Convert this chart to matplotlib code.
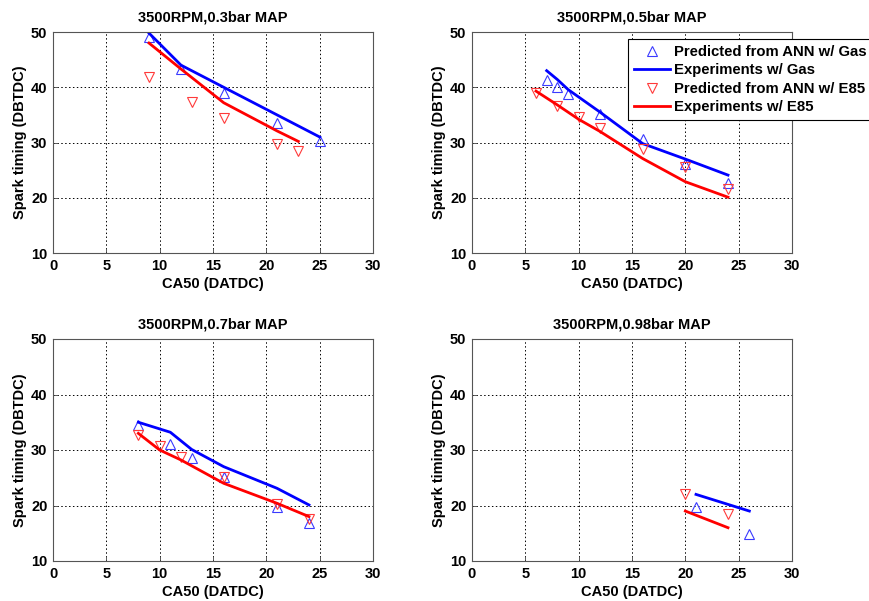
import matplotlib
matplotlib.use("Agg")
import matplotlib.pyplot as plt

plt.rcParams['font.family'] = ['Liberation Sans', 'DejaVu Sans']
plt.rcParams['font.weight'] = 'bold'

titles = ["3500RPM,0.3bar MAP", "3500RPM,0.5bar MAP",
          "3500RPM,0.7bar MAP", "3500RPM,0.98bar MAP"]

# 0.3 bar MAP
gas_exp_x_03 = [9, 12, 16, 21, 25]
gas_exp_y_03 = [49.8, 44.0, 40.0, 35.0, 31.0]
gas_ann_x_03 = [9, 12, 16, 21, 25]
gas_ann_y_03 = [49.1, 43.3, 38.9, 33.6, 30.2]
e85_exp_x_03 = [9, 12, 16, 21, 23]
e85_exp_y_03 = [48.0, 43.3, 37.2, 32.1, 30.2]
e85_ann_x_03 = [9, 13, 16, 21, 23]
e85_ann_y_03 = [41.9, 37.4, 34.5, 29.8, 28.5]

# 0.5 bar MAP
gas_exp_x_05 = [7, 8, 9, 12, 16, 20, 24]
gas_exp_y_05 = [43.0, 41.4, 39.6, 35.5, 29.8, 27.0, 24.1]
gas_ann_x_05 = [7, 8, 9, 12, 16, 20, 24]
gas_ann_y_05 = [41.4, 40.1, 38.8, 35.1, 30.7, 26.1, 22.6]
e85_exp_x_05 = [6, 8, 10, 12, 16, 20, 24]
e85_exp_y_05 = [39.3, 36.8, 34.2, 32.0, 27.1, 22.9, 20.1]
e85_ann_x_05 = [6, 8, 10, 12, 16, 20, 24]
e85_ann_y_05 = [38.9, 36.6, 34.7, 32.7, 28.9, 25.5, 21.6]

# 0.7 bar MAP
gas_exp_x_07 = [8, 11, 13, 16, 21, 24]
gas_exp_y_07 = [35.0, 33.2, 30.1, 27.0, 23.1, 20.1]
gas_ann_x_07 = [8, 11, 13, 16, 21, 24]
gas_ann_y_07 = [34.5, 31.1, 28.6, 25.1, 19.8, 16.9]
e85_exp_x_07 = [8, 10, 12, 16, 21, 24]
e85_exp_y_07 = [33.0, 30.0, 28.2, 24.0, 20.4, 18.0]
e85_ann_x_07 = [8, 10, 12, 16, 21, 24]
e85_ann_y_07 = [32.7, 30.7, 28.7, 25.1, 20.2, 17.6]

# 0.98 bar MAP
gas_exp_x_098 = [21, 26]
gas_exp_y_098 = [22.0, 19.0]
gas_ann_x_098 = [21, 26]
gas_ann_y_098 = [19.8, 14.8]
e85_exp_x_098 = [20, 24]
e85_exp_y_098 = [19.0, 16.0]
e85_ann_x_098 = [20, 24]
e85_ann_y_098 = [22.0, 18.5]

panels = [
    (gas_ann_x_03, gas_ann_y_03, gas_exp_x_03, gas_exp_y_03,
     e85_ann_x_03, e85_ann_y_03, e85_exp_x_03, e85_exp_y_03),
    (gas_ann_x_05, gas_ann_y_05, gas_exp_x_05, gas_exp_y_05,
     e85_ann_x_05, e85_ann_y_05, e85_exp_x_05, e85_exp_y_05),
    (gas_ann_x_07, gas_ann_y_07, gas_exp_x_07, gas_exp_y_07,
     e85_ann_x_07, e85_ann_y_07, e85_exp_x_07, e85_exp_y_07),
    (gas_ann_x_098, gas_ann_y_098, gas_exp_x_098, gas_exp_y_098,
     e85_ann_x_098, e85_ann_y_098, e85_exp_x_098, e85_exp_y_098),
]

x_ticks = [0, 5, 10, 15, 20, 25, 30]
y_ticks = [10, 20, 30, 40, 50]

fig = plt.figure(figsize=(8.69, 6.01), dpi=100)
W, H = 869, 601
# axes rectangles in pixels: left, top, right, bottom
rects = [(53, 32, 373, 253), (472, 32, 792, 253),
         (53, 339, 373, 561), (472, 339, 792, 561)]

handles = None
for i, (rect, data, title) in enumerate(zip(rects, panels, titles)):
    l, t, r, b = rect
    ax = fig.add_axes([l / W, 1 - b / H, (r - l) / W, (b - t) / H])
    gax, gay, gex, gey, eax, eay, eex, eey = data
    h1, = ax.plot(gax, gay, linestyle='none', marker='^', markersize=7,
                  markerfacecolor='none', markeredgecolor='#3a3aff',
                  markeredgewidth=0.8, label='Predicted from ANN w/ Gas')
    h2, = ax.plot(gex, gey, color='#0000ff', lw=2,
                  label='Experiments w/ Gas')
    h3, = ax.plot(eax, eay, linestyle='none', marker='v', markersize=7,
                  markerfacecolor='none', markeredgecolor='#ff3a3a',
                  markeredgewidth=0.8, label='Predicted from ANN w/ E85')
    h4, = ax.plot(eex, eey, color='#ff0000', lw=2,
                  label='Experiments w/ E85')
    if handles is None:
        handles = [h1, h2, h3, h4]
    ax.set_xlim(0, 30)
    ax.set_ylim(10, 50)
    ax.set_xticks(x_ticks)
    ax.set_yticks(y_ticks)
    ax.grid(True, color='black', linestyle=(0, (1.5, 2.5)), linewidth=0.7)
    ax.tick_params(direction='in', length=3, labelsize=10.5, width=0.6,
                   colors='#404040', labelcolor='black', pad=4)
    for lab in ax.get_xticklabels() + ax.get_yticklabels():
        lab.set_fontweight('bold')
    for s in ax.spines.values():
        s.set_color('#555555')
        s.set_linewidth(0.8)
    ax.set_title(title, fontsize=10.5, fontweight='bold', pad=7.5)
    ax.set_xlabel('CA50 (DATDC)', fontsize=10.5, fontweight='bold',
                  labelpad=3)
    ax.set_ylabel('Spark timing (DBTDC)', fontsize=10.5, fontweight='bold',
                  labelpad=3)

leg = fig.legend(handles=handles, loc='upper left',
                 bbox_to_anchor=(628 / W, 1 - 39 / H),
                 bbox_transform=fig.transFigure, borderaxespad=0,
                 fancybox=False, edgecolor='black', framealpha=1,
                 prop={'weight': 'bold', 'size': 10.7},
                 handlelength=2.4, handletextpad=0.3, labelspacing=0.3,
                 borderpad=0.4)
leg.get_frame().set_linewidth(0.8)

fig.savefig('out.png', dpi=100)
